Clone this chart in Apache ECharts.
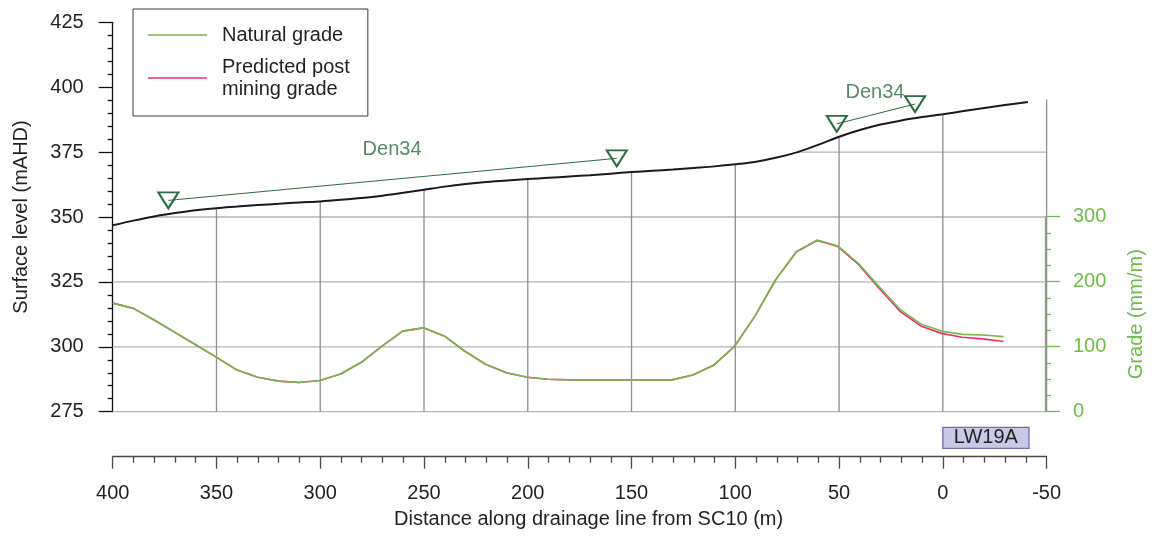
<!DOCTYPE html>
<html><head><meta charset="utf-8">
<script src="https://cdn.jsdelivr.net/npm/echarts@6/dist/echarts.min.js"></script>
<style>html,body{margin:0;padding:0;background:#fff}#c{width:1154px;height:539px}</style>
</head><body><div id="c"></div>
<script>
// ---- data ----
const groundDist  = [400,390,380,370,360,350,340,330,320,310,300,290,280,270,260,250,240,230,220,210,200,190,180,170,160,150,140,130,120,110,100,90,80,70,60,50,40,30,20,10,0,-10,-20,-30,-41];
const groundLevel = [346.8,348.6,350.2,351.5,352.6,353.4,354.0,354.6,355.1,355.6,356.0,356.6,357.3,358.2,359.3,360.5,361.7,362.7,363.5,364.1,364.6,365.1,365.6,366.1,366.7,367.3,367.8,368.3,368.9,369.5,370.3,371.3,372.9,375.0,377.8,380.9,383.5,385.6,387.2,388.5,389.6,390.8,392.0,393.1,394.3];

const gradeDist = [400,390,380,370,360,350,340,330,320,310,300,290,280,270,260,250,240,230,220,210,200,190,180,170,160,150,140,130,120,110,100,90,80,70,60,50,40,30,20,10,0,-10,-20,-30];
const naturalGrade = [167,159,141,122,103,84,64,53,47,45,48,58,76,101,124,129,116.5,93,73,60,53,50,49,49,49,49,49,49,56.5,71.4,100,147,203,246,264,255,228,192,157.5,135,124,119,118,115.5];
const postMiningGrade = [167,159,141,122,103,84,64,53,47,45,48,58,76,101,124,129,116.5,93,73,60,53,50,49,49,49,49,49,49,56.5,71.4,100,147,203,246,263.5,254,226.5,189.5,154.5,132,120.5,114.5,112,108];

const den34PairA = [[373.2,356.4],[157.1,372.6]];
const den34PairB = [[51.1,385.9],[13.4,393.5]];
const den34Labels = [{name:'Den34', value:[265.4,376.2]},{name:'Den34', value:[32.7,397.9]}];

const panel = {name:'LW19A', from:0, to:-41.5};

const distTicksV = [350,300,250,200,150,100,50,0,-50];
const levelTicksH = [275,300,325,350,375,400];

const X_MIN = -50, X_MAX = 400, Y_MIN = 275, Y_MAX = 425;
const FONT = "'Liberation Sans', Arial, sans-serif";
const TXT = '#231f20';
const GREEN_AX = '#6cbd45';

// ---- helpers ----
function groundAt(d){
  const n = groundDist.length;
  for (let i=0;i<n-1;i++){
    const a=groundDist[i], b=groundDist[i+1];
    if (d<=a && d>=b){ const t=(d-a)/(b-a); return groundLevel[i]+t*(groundLevel[i+1]-groundLevel[i]); }
  }
  const i = d>groundDist[0] ? 0 : n-2;
  const t=(d-groundDist[i])/(groundDist[i+1]-groundDist[i]);
  return groundLevel[i]+t*(groundLevel[i+1]-groundLevel[i]);
}
function distAtLevel(lv){
  if (groundLevel[0] >= lv) return groundDist[0];
  for (let i=0;i<groundLevel.length-1;i++){
    const a=groundLevel[i], b=groundLevel[i+1];
    if (lv>a && lv<=b){ const t=(lv-a)/(b-a); return groundDist[i]+t*(groundDist[i+1]-groundDist[i]); }
  }
  const n=groundDist.length;
  const slope=(groundLevel[n-1]-groundLevel[n-2])/(groundDist[n-1]-groundDist[n-2]);
  const d=groundDist[n-1]+(lv-groundLevel[n-1])/slope;
  return d>=X_MIN ? d : null;
}

const chart = echarts.init(document.getElementById('c'), null, {renderer:'canvas'});
const gridPos = {left:112.7, width:933.9};

const option = {
  animation:false,
  backgroundColor:'#fff',
  textStyle:{fontFamily:FONT},
  grid:[
    Object.assign({top:22.3, height:389.4}, gridPos),
    Object.assign({top:216.7, height:195}, gridPos),
    Object.assign({top:427.3, height:21}, gridPos)
  ],
  legend:{
    left:133, top:9, orient:'vertical',
    data:['Natural grade','Predicted post mining grade'],
    icon:'rect',
    itemWidth:59, itemHeight:1.6, itemGap:10,
    padding:[15,18,16,15],
    borderColor:'#3a3a3a', borderWidth:1,
    textStyle:{fontSize:20, color:TXT, fontFamily:FONT, lineHeight:22, padding:[0,0,0,10]},
    formatter: n => n==='Predicted post mining grade' ? 'Predicted post\nmining grade' : n
  },
  xAxis:[
    {gridIndex:0, type:'value', min:X_MIN, max:X_MAX, inverse:true, show:false},
    {gridIndex:1, type:'value', min:X_MIN, max:X_MAX, inverse:true, show:false},
    {gridIndex:2, type:'value', min:X_MIN, max:X_MAX, interval:50, inverse:true, position:'bottom', offset:8.4,
     axisLine:{show:true, onZero:false, lineStyle:{color:'#4a4a4a', width:1.3}},
     axisTick:{show:true, length:12, lineStyle:{color:'#4a4a4a', width:1.3}},
     minorTick:{show:true, splitNumber:5, length:6, lineStyle:{color:'#4a4a4a', width:1.3}},
     splitLine:{show:false},
     axisLabel:{margin:27, fontSize:20, color:TXT, fontFamily:FONT},
     name:'Distance along drainage line from SC10 (m)', nameLocation:'middle', nameGap:53,
     nameTextStyle:{fontSize:20, color:TXT, fontFamily:FONT, padding:[0,0,0,18]}}
  ],
  yAxis:[
    {gridIndex:0, type:'value', min:Y_MIN, max:Y_MAX, interval:25, position:'left',
     axisLine:{show:true, onZero:false, lineStyle:{color:'#111', width:1.3}},
     axisTick:{show:true, length:14, lineStyle:{color:'#111', width:1.3}},
     minorTick:{show:true, splitNumber:5, length:5, lineStyle:{color:'#111', width:1.3}},
     splitLine:{show:false},
     axisLabel:{margin:29, fontSize:20, color:TXT, fontFamily:FONT},
     name:'Surface level (mAHD)', nameLocation:'middle', nameGap:81, nameRotate:90,
     nameTextStyle:{fontSize:20, color:TXT, fontFamily:FONT}},
    {gridIndex:1, type:'value', min:0, max:300, interval:100, position:'right',
     axisLine:{show:true, onZero:false, lineStyle:{color:GREEN_AX, width:1.3}},
     axisTick:{show:true, length:15, lineStyle:{color:GREEN_AX, width:1.3}},
     minorTick:{show:true, splitNumber:4, length:6, lineStyle:{color:GREEN_AX, width:1.3}},
     splitLine:{show:false},
     axisLabel:{margin:28, fontSize:20, color:GREEN_AX, fontFamily:FONT},
     name:'Grade (mm/m)', nameLocation:'middle', nameGap:81, nameRotate:90,
     nameTextStyle:{fontSize:20, color:GREEN_AX, fontFamily:FONT}},
    {gridIndex:2, type:'value', min:0, max:1, show:false}
  ],
  series:[
    {type:'custom', name:'grid', xAxisIndex:0, yAxisIndex:0, silent:true, z:1, clip:false,
     data:[[X_MAX, Y_MIN]],
     renderItem:function(params, api){
       const children=[];
       levelTicksH.forEach(lv=>{
         const d0 = distAtLevel(lv);
         if (d0===null) return;
         const p1=api.coord([d0, lv]), p2=api.coord([X_MIN, lv]);
         children.push({type:'line', shape:{x1:p1[0],y1:p1[1],x2:p2[0],y2:p2[1]}, style:{stroke:'#b5b5b5', lineWidth:1.3}});
       });
       distTicksV.forEach(d=>{
         const p1=api.coord([d, groundAt(d)]), p2=api.coord([d, Y_MIN]);
         children.push({type:'line', shape:{x1:p1[0],y1:p1[1],x2:p2[0],y2:p2[1]}, style:{stroke:'#8e8e8e', lineWidth:1.3}});
       });
       return {type:'group', children};
     }},
    {type:'line', name:'Ground', xAxisIndex:0, yAxisIndex:0, z:3,
     data: groundDist.map((d,i)=>[d, groundLevel[i]]),
     symbol:'none', smooth:0.3, lineStyle:{color:'#1a1a1a', width:2}},
    {type:'line', name:'Predicted post mining grade', xAxisIndex:1, yAxisIndex:1, z:4,
     data: gradeDist.map((d,i)=>[d, postMiningGrade[i]]),
     symbol:'none', lineStyle:{color:'#ec2f6b', width:1.6}, itemStyle:{color:'#ec2f6b'}},
    {type:'line', name:'Natural grade', xAxisIndex:1, yAxisIndex:1, z:5,
     data: gradeDist.map((d,i)=>[d, naturalGrade[i]]),
     symbol:'none', lineStyle:{color:'#74b94a', width:1.6}, itemStyle:{color:'#74b94a'}},
    {type:'line', name:'Den34 A', xAxisIndex:0, yAxisIndex:0, z:6, data:den34PairA,
     symbol:'triangle', symbolRotate:180, symbolSize:[20,16], showAllSymbol:true,
     lineStyle:{color:'#2b6d40', width:1},
     itemStyle:{color:'rgba(255,255,255,0)', borderColor:'#2b6d40', borderWidth:2}},
    {type:'line', name:'Den34 B', xAxisIndex:0, yAxisIndex:0, z:6, data:den34PairB,
     symbol:'triangle', symbolRotate:180, symbolSize:[20,16], showAllSymbol:true,
     lineStyle:{color:'#2b6d40', width:1},
     itemStyle:{color:'rgba(255,255,255,0)', borderColor:'#2b6d40', borderWidth:2}},
    {type:'scatter', name:'Den34 labels', xAxisIndex:0, yAxisIndex:0, z:7, data:den34Labels,
     symbolSize:1, itemStyle:{color:'rgba(0,0,0,0)'},
     label:{show:true, position:'inside', formatter:'{b}', fontSize:20, color:'#2b6d40', fontFamily:FONT}},
    {type:'custom', name:'Panel', xAxisIndex:2, yAxisIndex:2, z:3, clip:false,
     data:[[panel.from, panel.to]], encode:{x:[0,1]},
     renderItem:function(params, api){
       const a=api.coord([api.value(0),1]), b=api.coord([api.value(1),0]);
       return {type:'rect',
         shape:{x:Math.min(a[0],b[0]), y:Math.min(a[1],b[1]), width:Math.abs(b[0]-a[0]), height:Math.abs(b[1]-a[1])},
         style:{fill:'#c9c8e5', stroke:'#6c6cb6', lineWidth:1.3},
         textContent:{style:{text:panel.name, fontSize:20, fill:TXT, fontFamily:FONT}},
         textConfig:{position:'inside'}};
     }}
  ]
};
chart.setOption(option);
</script></body></html>
